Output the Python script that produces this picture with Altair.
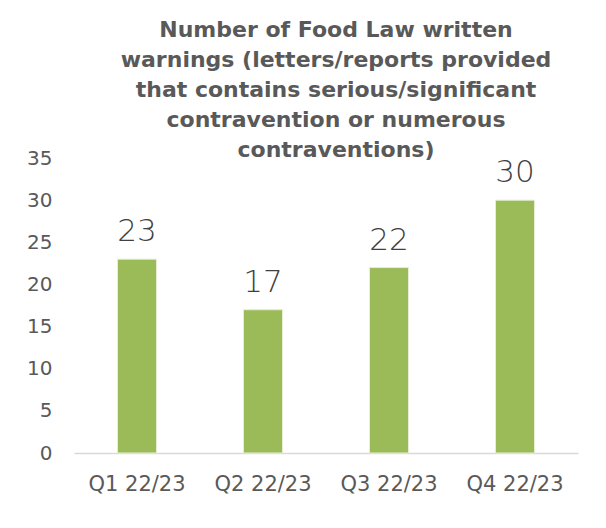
import altair as alt
import pandas as pd

quarters = ["Q1 22/23", "Q2 22/23", "Q3 22/23", "Q4 22/23"]
warnings = [23, 17, 22, 30]
title_lines = [
    "Number of Food Law written",
    "warnings (letters/reports provided",
    "that contains serious/significant",
    "contravention or numerous",
    "contraventions)",
]

df = pd.DataFrame({"quarter": quarters, "count": warnings})

base = alt.Chart(df).encode(
    x=alt.X("quarter:N", sort=quarters, title=None,
            scale=alt.Scale(paddingInner=0.69, paddingOuter=0.345),
            axis=alt.Axis(labelAngle=0, ticks=False, domainColor="#D9D9D9",
                          domainWidth=1.5, labelColor="#595959", labelFontSize=21,
                          labelFont="DejaVu Sans", labelPadding=20)),
    y=alt.Y("count:Q", title=None,
            scale=alt.Scale(domain=[0, 35], nice=False),
            axis=alt.Axis(values=[0, 5, 10, 15, 20, 25, 30, 35], grid=False, ticks=False,
                          domain=False, labelColor="#595959", labelFontSize=20,
                          labelFont="DejaVu Sans", labelPadding=22)),
)

bars = base.mark_bar(color="#9BBB59", stroke="#E6EED5", strokeWidth=1)
labels = base.mark_text(baseline="alphabetic", dy=-18, fontSize=31, color="#404040",
                        font="DejaVu Sans", fontWeight=300).encode(text="count:Q")

chart = (bars + labels).properties(
    width=504,
    height=295,
    autosize=alt.AutoSizeParams(type="none"),
    padding={"left": 66, "top": 150, "right": 20, "bottom": 75},
    title=alt.TitleParams(title_lines, anchor="middle", dx=10, fontSize=22,
                          font="DejaVu Sans", fontWeight="bold", color="#595959",
                          lineHeight=30, offset=-14),
).configure_view(stroke=None)

chart.save("out.html", embed_options={"renderer": "svg", "actions": False})
